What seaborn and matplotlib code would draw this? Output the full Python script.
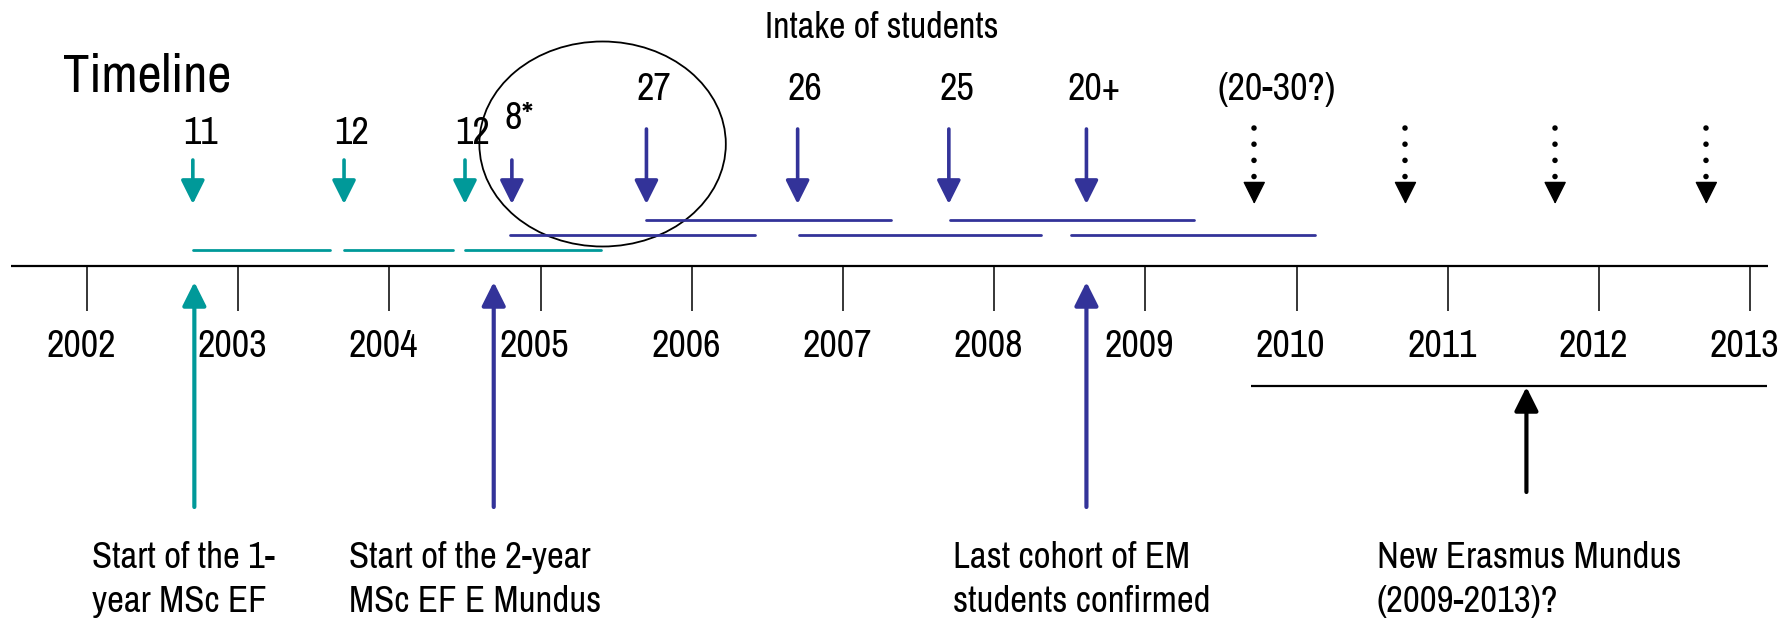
import matplotlib
matplotlib.use("Agg")
import matplotlib.pyplot as plt
from matplotlib.patches import Ellipse
import pandas as pd
import seaborn as sns

# ----------------------------
# Data
# ----------------------------
years = list(range(2002, 2014))

intake_years = [2002.70, 2003.70, 2004.50, 2004.81, 2005.70, 2006.70, 2007.70, 2008.61]
intake_labels = ["11", "12", "12", "8*", "27", "26", "25", "20+"]
intake_program = ["1-year", "1-year", "1-year", "EM", "EM", "EM", "EM", "EM"]

future_years = [2009.72, 2010.72, 2011.71, 2012.71]
future_label = "(20-30?)"

cohort_start = [2002.70, 2003.70, 2004.50, 2004.80, 2005.70, 2006.71, 2007.71, 2008.51]
cohort_end = [2003.61, 2004.42, 2005.40, 2006.42, 2007.32, 2008.31, 2009.32, 2010.12]
cohort_track = ["1-year", "1-year", "1-year", "EM-a", "EM-b", "EM-a", "EM-b", "EM-a"]

milestone_years = [2002.71, 2004.69, 2008.61]
milestone_program = ["1-year", "EM", "EM"]
milestone_text = ["Start of the 1-\nyear MSc EF",
                  "Start of the 2-year\nMSc EF E Mundus",
                  "Last cohort of EM\nstudents confirmed"]

new_em_span = [2009.70, 2013.11]
new_em_year = 2011.52
new_em_text = "New Erasmus Mundus\n(2009-2013)?"

# ----------------------------
# Layout / style
# ----------------------------
W, H, DPI = 1791, 620, 100
X0_PX, PX_PER_YEAR = 87, 151.2          # pixel of 2002 tick, pixels per year

def px2yr(px):
    return 2002 + (px - X0_PX) / PX_PER_YEAR

TEAL = "#009999"
BLUE = "#333399"
colors = {"1-year": TEAL, "EM": BLUE, "EM-a": BLUE, "EM-b": BLUE}
track_y = {"1-year": 250, "EM-a": 235, "EM-b": 220}
label_base = [144, 144, 144, 129, 100, 100, 100, 100]
arrow_top = [160, 160, 160, 160, 129, 129, 129, 129]
arrow_tip = 204
note_left_px = [92, 349, 953, 1377]

sns.set_theme(style="white")
plt.rcParams["font.family"] = ["Archivo Narrow", "Liberation Sans", "DejaVu Sans"]
plt.rcParams["text.color"] = "black"

fig = plt.figure(figsize=(W / DPI, H / DPI), dpi=DPI)
ax = fig.add_axes([0, 0, 1, 1])
ax.set_xlim(px2yr(0), px2yr(W))
ax.set_ylim(H, 0)
ax.axis("off")

# timeline axis with ticks and years
ax.hlines(266, px2yr(11), px2yr(1768), color="black", lw=1.6)
ax.vlines(years, 266, 311, color="black", lw=1.1)
for y in years:
    ax.text(y - 0.04, 357, str(y), ha="center", va="baseline", fontsize=27.5)

# cohort duration lines
cohorts = pd.DataFrame({
    "cohort": list(range(len(cohort_start))) * 2,
    "x": cohort_start + cohort_end,
    "track": cohort_track * 2,
})
cohorts["y"] = cohorts["track"].map(track_y)
sns.lineplot(data=cohorts, x="x", y="y", units="cohort", estimator=None,
             hue="track", palette=colors, lw=2, sort=False, legend=False, ax=ax)

# intake arrows and numbers
for yr, lab, prog, base, top in zip(intake_years, intake_labels, intake_program,
                                    label_base, arrow_top):
    ax.annotate("", xy=(yr, arrow_tip), xytext=(yr, top),
                arrowprops=dict(arrowstyle="-|>", color=colors[prog], lw=2.6,
                                mutation_scale=36, shrinkA=0, shrinkB=0))
    ax.text(yr + 0.05, base, lab, ha="center", va="baseline", fontsize=27.5)

# future (uncertain) intakes: dotted arrows
for yr in future_years:
    ax.plot([yr, yr], [128, 184], color="black", lw=4,
            linestyle=(0, (0.01, 2.9)), dash_capstyle="round")
    ax.annotate("", xy=(yr, arrow_tip), xytext=(yr, 185),
                arrowprops=dict(arrowstyle="-|>", color="black", lw=1,
                                mutation_scale=36, shrinkA=0, shrinkB=0))
ax.text(future_years[0] + 0.15, 100, future_label, ha="center", va="baseline", fontsize=27.5)

# milestones below the timeline
for yr, prog in zip(milestone_years, milestone_program):
    ax.annotate("", xy=(yr, 282), xytext=(yr, 507),
                arrowprops=dict(arrowstyle="-|>", color=colors[prog], lw=3,
                                mutation_scale=36, shrinkA=0, shrinkB=0))
ax.hlines(386, new_em_span[0], new_em_span[1], color="black", lw=1.6)
ax.annotate("", xy=(new_em_year, 387), xytext=(new_em_year, 492),
            arrowprops=dict(arrowstyle="-|>", color="black", lw=3,
                            mutation_scale=36, shrinkA=0, shrinkB=0))

for left, txt in zip(note_left_px, milestone_text + [new_em_text]):
    for i, line in enumerate(txt.split("\n")):
        ax.text(px2yr(left), 568 + 44 * i, line, ha="left", va="baseline", fontsize=26.5)

# highlight ellipse around the first EM intakes
ax.add_patch(Ellipse((2005.41, 144), 1.63, 205, fill=False, ec="black", lw=1.3))

# titles
ax.text(px2yr(63), 91, "Timeline", ha="left", va="baseline", fontsize=38)
ax.text(px2yr(882), 38, "Intake of students", ha="center", va="baseline", fontsize=26)

fig.savefig("out.png", dpi=DPI)
